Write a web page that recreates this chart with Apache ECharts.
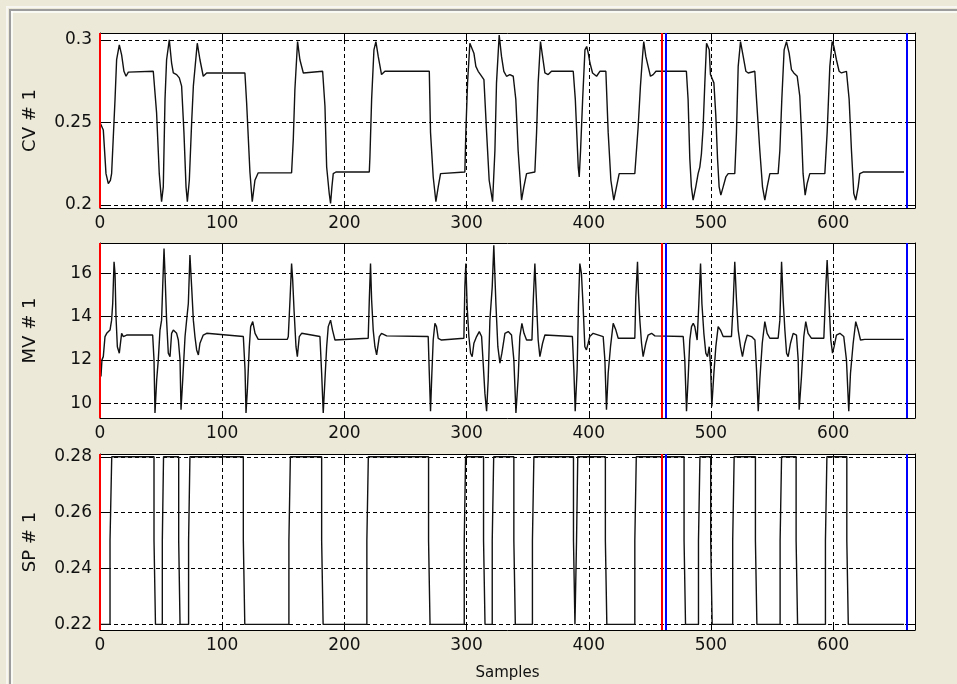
<!DOCTYPE html>
<html>
<head>
<meta charset="utf-8">
<title>CV / MV / SP</title>
<script src="https://cdn.jsdelivr.net/npm/echarts@6/dist/echarts.min.js"></script>
<style>
  html, body { margin: 0; padding: 0; background: #ece9d8; }
  #chart { width: 957px; height: 684px; }
</style>
</head>
<body>
<div id="chart"></div>
<script>
// tick values
const xTicks = [0, 100, 200, 300, 400, 500, 600];
const cvTicks = [0.2, 0.25, 0.3];
const mvTicks = [10, 12, 14, 16];
const spTicks = [0.22, 0.24, 0.26, 0.28];

// vertical markers (sample index)
const redMarks = [0, 460];
const blueMarks = [463, 660];

// CV # 1  [sample, value]
const cvData = [
  [0,0.250],[2.7,0.2455],[4.9,0.219],[6.8,0.213],[8.5,0.215],[9.5,0.219],[12.3,0.264],[13.6,0.288],[15.8,0.297],
  [17.7,0.291],[19.6,0.281],[21.3,0.278],[23.2,0.2805],[43.6,0.281],
  [46.3,0.256],[48.5,0.219],[50.4,0.202],[51.8,0.211],[53.2,0.264],[54.5,0.288],[56.7,0.300],[58.6,0.286],
  [60,0.280],[62.7,0.279],[64.9,0.277],[66.8,0.272],[68.7,0.244],[70.4,0.211],[71.5,0.202],[73.1,0.215],
  [75,0.250],[76.4,0.272],[79.6,0.298],[81.8,0.288],[84.5,0.278],[87.3,0.280],[118.6,0.280],
  [120,0.262],[122.7,0.220],[124.6,0.202],[126.8,0.215],[129.5,0.2195],[156.8,0.2195],
  [158.2,0.240],[159.5,0.270],[161.7,0.299],[163.6,0.288],[166.4,0.280],[182.2,0.281],
  [184.1,0.260],[185.5,0.223],[187.6,0.207],[188.7,0.201],[189.8,0.211],[190.9,0.219],[193.1,0.220],[220.4,0.220],
  [220.9,0.229],[222.3,0.264],[224.2,0.294],[225.8,0.299],[227.7,0.290],[230.4,0.279],[233.2,0.281],[269.5,0.281],
  [270.5,0.244],[272.7,0.217],[274.9,0.202],[276.8,0.211],[278.7,0.219],[298.6,0.220],
  [299.4,0.244],[300.8,0.274],[302.7,0.298],[304.1,0.299],[306,0.292],[307.6,0.284],[309.5,0.281],[311.4,0.279],
  [314.2,0.276],[316.4,0.244],[318.5,0.215],[321.3,0.202],[323.2,0.233],[324.5,0.274],[326.7,0.303],[328.6,0.290],
  [330.5,0.281],[332.7,0.278],[335.4,0.279],[338.2,0.278],[340.3,0.264],[342.2,0.233],[345,0.203],[346.9,0.211],
  [349.1,0.219],[355.9,0.220],[357.3,0.244],[358.6,0.274],[360.5,0.299],[362.2,0.290],[364.1,0.280],[366.8,0.279],
  [369.5,0.281],[387.3,0.281],[389,0.264],[391.4,0.223],[392.2,0.217],[393.3,0.233],[395,0.264],[396.9,0.294],
  [398.3,0.296],[399.6,0.292],[401,0.286],[403.1,0.280],[406.4,0.278],[409.1,0.281],[414,0.281],
  [415.9,0.244],[418.1,0.215],[420.5,0.203],[422.7,0.211],[424.9,0.219],[437.7,0.219],
  [439.1,0.219],[440.4,0.247],[442.3,0.272],[444,0.290],[445,0.299],[446.7,0.290],[448.6,0.284],[450.5,0.278],
  [452.7,0.279],[455,0.281],[479.9,0.281],[481.3,0.264],[482.7,0.228],[484,0.211],[485.4,0.203],[487.6,0.211],
  [489.5,0.219],[490.9,0.223],[492.2,0.231],[493.6,0.247],[495,0.274],[496.4,0.298],[497.2,0.299],[498.6,0.294],
  [499.6,0.279],[500.7,0.278],[502.4,0.274],[504,0.254],[505.4,0.228],[506.7,0.211],[508.1,0.206],[510,0.211],
  [512.2,0.217],[514.1,0.219],[519.5,0.219],[520.9,0.244],[522.3,0.284],[524.2,0.299],[526.4,0.290],[528.6,0.281],
  [530.5,0.280],[535.9,0.281],[537.3,0.264],[540,0.233],[542.2,0.211],[544.1,0.203],[546,0.211],[548.2,0.219],
  [555,0.219],[556.4,0.233],[558,0.264],[559.9,0.294],[561.8,0.299],[564,0.292],[565.9,0.282],[567.8,0.280],
  [570.6,0.278],[572.7,0.266],[574.1,0.244],[575.4,0.219],[577.1,0.206],[578.7,0.213],[580.9,0.219],[593.2,0.219],
  [595.1,0.244],[597.3,0.284],[599.2,0.299],[600.6,0.296],[602.7,0.288],[604.9,0.281],[606.8,0.280],[610.9,0.281],
  [613.1,0.264],[615,0.233],[616.9,0.207],[618.5,0.203],[620.5,0.211],[621.8,0.219],[624.5,0.220],[658,0.220]
];

// MV # 1  [sample, value]
const mvData = [
  [0,12.0],[0.8,11.23],[1.6,12.0],[2.7,12.15],[4.1,13.08],[5.5,13.23],[6.8,13.15],[8.2,13.38],[9.5,13.84],
  [10.4,14.61],[11.5,16.54],[12.3,16.0],[13.1,14.0],[14.2,12.61],[15.8,12.31],[17.7,13.23],[19.1,13.08],
  [21.8,13.15],[43.1,13.15],[44.2,12.0],[45,9.54],[46.4,11.08],[47.7,12.0],[49.1,13.38],[50.4,13.84],[51.3,15.38],
  [52.4,17.15],[53.2,16.0],[54.5,13.84],[55.9,12.31],[57.3,12.15],[58.6,13.23],[60,13.38],[62.7,13.23],
  [64.1,12.92],[65.5,12.0],[66.3,9.69],[67.7,11.08],[69.6,13.08],[70.9,13.84],[72.3,14.61],[73.6,16.85],[75,15.38],
  [76.4,13.84],[77.7,13.08],[79.1,12.46],[80.5,12.23],[81.8,12.77],[84.5,13.15],[87.3,13.23],[117.3,13.08],
  [118.7,11.54],[119.5,9.54],[120.6,10.61],[122.2,12.61],[123.3,13.54],[125,13.77],[126.9,13.23],[129.5,12.95],
  [153.3,12.95],[154.1,13.08],[155.5,14.77],[156.8,16.46],[157.7,15.69],[158.8,14.31],[160.4,12.61],[161.5,12.15],
  [163.1,13.08],[165,13.23],[180,13.08],[181.4,11.38],[182.7,9.54],[184.1,11.08],[185.5,12.61],[186.8,13.54],
  [188.7,13.84],[190.3,13.38],[192.3,12.92],[219.5,13.0],[220.4,14.77],[221.4,16.46],[222.3,14.77],[223.6,13.38],
  [225,12.61],[226.4,12.23],[228.6,13.08],[230.4,13.23],[234.6,13.11],[268.6,13.08],[269.5,11.38],[270.5,9.62],
  [271.6,11.38],[272.7,12.92],[274.1,13.69],[275.4,13.54],[276.8,13.0],[279.5,12.92],[297.8,13.0],[298.6,15.38],
  [299.4,16.46],[300.5,14.46],[301.9,13.08],[303.3,12.31],[304.6,12.15],[306,12.77],[308.2,13.08],[310.4,13.31],
  [312.3,13.08],[313.6,11.85],[315,10.46],[316.4,9.62],[317.7,11.08],[319.1,13.84],[321,15.38],[322.3,17.30],
  [324,14.61],[325.6,12.61],[327.3,11.85],[328.9,12.31],[331.4,13.23],[334.1,13.31],[336.8,13.15],[338.7,12.0],
  [340.4,9.54],[342.3,11.23],[343.6,13.08],[345.3,13.69],[347,13.23],[349.1,12.92],[353.5,12.92],[354.6,14.77],
  [355.9,16.46],[357.3,14.61],[358.6,12.92],[360,12.15],[362.2,12.77],[364.1,13.15],[386.6,13.08],[387.8,11.54],
  [388.9,9.62],[390.5,11.54],[391.6,14.61],[392.7,16.46],[394,16.0],[395.4,14.46],[396.8,12.61],[398.1,12.46],
  [399.5,12.77],[400.8,13.08],[403.6,13.23],[411.8,13.08],[413.2,12.0],[414.5,9.69],[415.9,11.38],[417.8,12.61],
  [420,13.69],[422.2,13.38],[424.1,13.0],[437.7,13.0],[438.5,14.9],[439.9,16.54],[440.7,15.08],[441.8,13.84],
  [443.2,12.77],[444.5,12.15],[446.7,12.77],[448.6,13.15],[451.4,13.23],[454.1,13.11],[477.3,13.08],[478.6,12.0],
  [480,9.62],[481.4,11.23],[482.7,12.92],[484.1,13.54],[485.5,13.69],[486.8,13.54],[488.7,12.92],[490.1,14.61],
  [491.5,16.46],[492.6,14.61],[494.2,13.23],[495.8,12.31],[497.2,12.15],[498.6,12.61],[499.7,11.69],[500.7,9.85],
  [502.4,11.38],[504,12.61],[505.9,13.54],[507.8,13.38],[510,13.08],[516.8,13.08],[518.2,14.61],[519.5,16.54],
  [520.9,14.77],[522.3,13.38],[524.2,12.61],[525.8,12.15],[527.8,12.77],[529.7,13.15],[533.2,13.08],[536,12.92],
  [537.3,11.54],[538.7,9.62],[540,11.08],[542,12.77],[544.1,13.77],[546,13.23],[548.2,13.0],[555,13.0],
  [556.4,13.84],[557.8,16.54],[559.1,14.77],[560.5,13.38],[561.9,12.31],[563.2,12.15],[565.1,12.77],[567.3,13.23],
  [570,13.15],[571.4,12.0],[572.2,9.69],[574.1,11.23],[576,13.08],[577.6,13.77],[579.5,13.23],[582.3,13.0],
  [592.4,13.0],[594,15.38],[595.1,16.62],[596.7,14.61],[598.1,12.92],[599.5,12.31],[600.8,12.61],[602.7,13.15],
  [605.5,13.23],[608.7,13.08],[610.9,12.0],[612.8,9.62],[614.2,11.38],[616.4,12.77],[618.5,13.77],[620.5,13.38],
  [622.4,12.92],[625.9,12.95],[658,12.95]
];

// SP # 1  [sample, value] - set-point steps (each edge passes through 0.25)
const spData = [
  [0,0.22],[8.2,0.22],[8.2,0.25],[9.6,0.25],[9.6,0.28],
  [44.2,0.28],[44.2,0.25],[45.4,0.25],[45.4,0.22],[51,0.22],[51,0.25],[52,0.25],[52,0.28],
  [64.4,0.28],[64.4,0.25],[65.5,0.25],[65.5,0.22],[72.5,0.22],[72.5,0.25],[73.6,0.25],[73.6,0.28],
  [117.3,0.28],[117.3,0.25],[118.5,0.25],[118.5,0.22],[154.6,0.22],[154.6,0.25],[155.8,0.25],[155.8,0.28],
  [181.4,0.28],[181.4,0.25],[182.6,0.25],[182.6,0.22],[218.4,0.22],[218.4,0.25],[219.6,0.25],[219.6,0.28],
  [268.9,0.28],[268.9,0.25],[270.1,0.25],[270.1,0.22],[298.1,0.22],[298.1,0.25],[299.2,0.25],[299.2,0.28],
  [313.9,0.28],[313.9,0.25],[315.1,0.25],[315.1,0.22],[321,0.22],[321,0.25],[322.2,0.25],[322.2,0.28],
  [338.7,0.28],[338.7,0.25],[339.9,0.25],[339.9,0.22],[353.9,0.22],[353.9,0.25],[355.1,0.25],[355.1,0.28],
  [387.5,0.28],[387.5,0.25],[388.7,0.25],[388.7,0.22],[390,0.22],[390,0.25],[391,0.25],[391,0.28],
  [413.6,0.28],[413.6,0.25],[414.8,0.25],[414.8,0.22],[437.7,0.22],[437.7,0.25],[438.9,0.25],[438.9,0.28],
  [478,0.28],[478,0.25],[479.2,0.25],[479.2,0.22],[489.8,0.22],[489.8,0.25],[491,0.25],[491,0.28],
  [499.8,0.28],[499.8,0.25],[501,0.25],[501,0.22],[517.8,0.22],[517.8,0.25],[519,0.25],[519,0.28],
  [536.4,0.28],[536.4,0.25],[537.6,0.25],[537.6,0.22],[556.6,0.22],[556.6,0.25],[557.8,0.25],[557.8,0.28],
  [569.7,0.28],[569.7,0.25],[570.9,0.25],[570.9,0.22],[593.7,0.22],[593.7,0.25],[594.9,0.25],[594.9,0.28],
  [611.2,0.28],[611.2,0.25],[612.4,0.25],[612.4,0.22],[658,0.22]
];

const panels = [
  {name: 'CV # 1', data: cvData, ticks: cvTicks, min: 0.1982, max: 0.3042, top: 33, height: 175},
  {name: 'MV # 1', data: mvData, ticks: mvTicks, min: 9.31, max: 17.41, top: 243, height: 175},
  {name: 'SP # 1', data: spData, ticks: spTicks, min: 0.218, max: 0.281, top: 454, height: 176}
];

const font = {fontFamily: 'DejaVu Sans', fontSize: 17, color: '#111'};
const black = {color: '#000', width: 1};
const dotted = {color: '#000', width: 1, type: [4, 3]};

const grid = [], xAxis = [], yAxis = [], series = [];

panels.forEach((p, i) => {
  grid.push({left: 100, right: 42, top: p.top, height: p.height, backgroundColor: '#fff', show: true, borderWidth: 0});
  ['bottom', 'top'].forEach(pos => {
    const main = pos === 'bottom';
    xAxis.push({
      type: 'value', gridIndex: i, position: pos, min: 0, max: 667,
      axisLine: {show: true, onZero: false, lineStyle: black},
      axisTick: {show: true, inside: true, length: 7, customValues: xTicks, lineStyle: black},
      axisLabel: {show: main, customValues: xTicks, margin: 7, ...font},
      splitLine: {show: main, lineStyle: dotted},
      name: (main && i === 2) ? 'Samples' : '',
      nameLocation: 'middle', nameGap: 36,
      nameTextStyle: {fontFamily: 'DejaVu Sans', fontSize: 15, color: '#111'}
    });
  });
  ['left', 'right'].forEach(pos => {
    const main = pos === 'left';
    yAxis.push({
      type: 'value', gridIndex: i, position: pos, min: p.min, max: p.max,
      axisLine: {show: true, onZero: false, lineStyle: black},
      axisTick: {show: true, inside: true, length: 7, customValues: p.ticks, lineStyle: black},
      axisLabel: {show: main, customValues: p.ticks, margin: 8, ...font},
      splitLine: {show: main, lineStyle: dotted},
      name: main ? p.name : '',
      nameLocation: 'middle', nameRotate: 90, nameGap: 61,
      nameTextStyle: {...font, fontSize: 18}
    });
  });
  series.push({
    type: 'line', xAxisIndex: i * 2, yAxisIndex: i * 2, data: p.data,
    symbol: 'none', lineStyle: {color: '#111', width: 1.4}, z: 3,
    markLine: {
      silent: true, symbol: 'none', label: {show: false}, animation: false,
      data: redMarks.map(v => ({xAxis: v, lineStyle: {color: '#ff0000', width: 2, type: 'solid'}}))
        .concat(blueMarks.map(v => ({xAxis: v, lineStyle: {color: '#0000ff', width: 2, type: 'solid'}})))
    }
  });
});

const chart = echarts.init(document.getElementById('chart'), null, {renderer: 'canvas'});
chart.setOption({
  backgroundColor: '#ece9d8',
  animation: false,
  grid, xAxis, yAxis, series,
  graphic: [
    {type: 'line', shape: {x1: 6, y1: 7, x2: 957, y2: 7}, style: {stroke: '#f7f6f1', lineWidth: 2}},
    {type: 'line', shape: {x1: 7, y1: 6, x2: 7, y2: 684}, style: {stroke: '#f7f6f1', lineWidth: 2}},
    {type: 'line', shape: {x1: 9, y1: 10, x2: 957, y2: 10}, style: {stroke: '#9c9c9c', lineWidth: 2}},
    {type: 'line', shape: {x1: 10, y1: 9, x2: 10, y2: 684}, style: {stroke: '#9c9c9c', lineWidth: 2}},
    {type: 'line', shape: {x1: 11, y1: 12, x2: 957, y2: 12}, style: {stroke: '#ffffff', lineWidth: 1.5}},
    {type: 'line', shape: {x1: 12, y1: 11, x2: 12, y2: 684}, style: {stroke: '#ffffff', lineWidth: 1.5}}
  ]
});
</script>
</body>
</html>
